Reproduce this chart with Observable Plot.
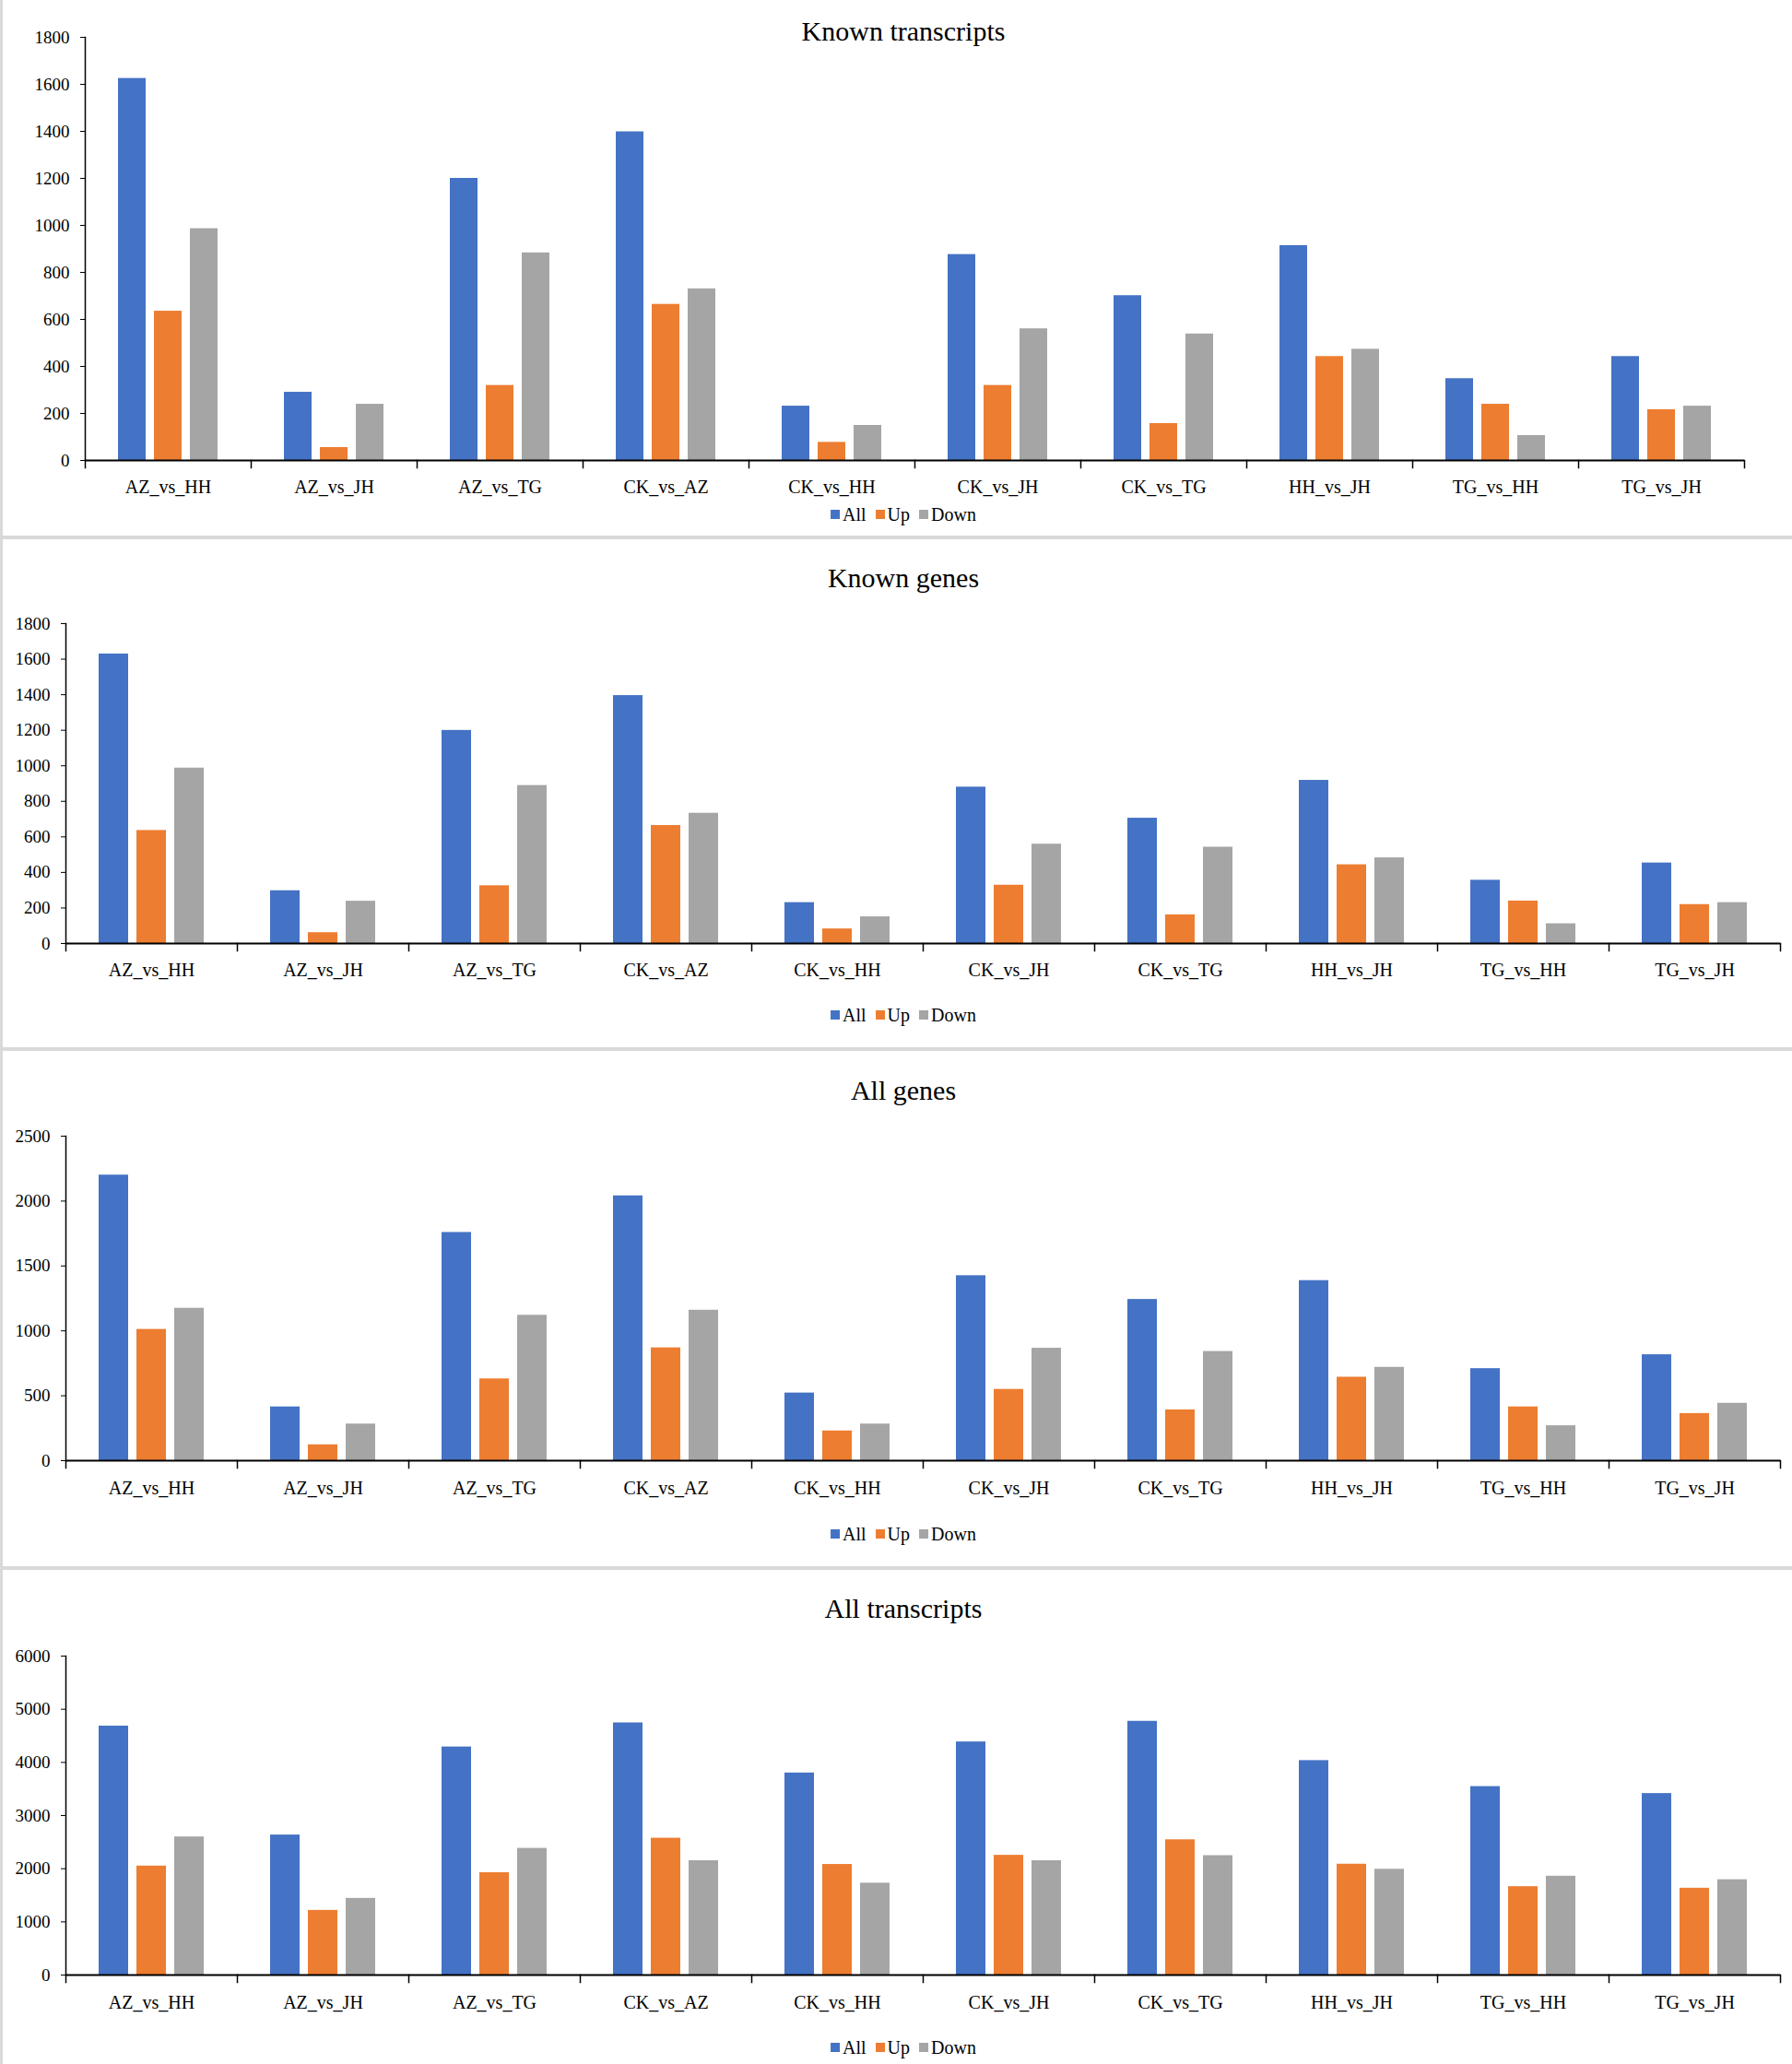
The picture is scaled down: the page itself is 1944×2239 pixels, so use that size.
<!DOCTYPE html>
<html>
<head>
<meta charset="utf-8">
<script src="https://cdn.jsdelivr.net/npm/d3@7"></script>
<script src="https://cdn.jsdelivr.net/npm/@observablehq/plot@0.6"></script>
<style>
  html, body { margin: 0; padding: 0; background: #fff; }
  #page { position: relative; width: 1944px; height: 2239px; overflow: hidden; background: #fff; font-family: "Liberation Serif", "DejaVu Serif", serif; color: #000; }
  .title { position: absolute; font-size: 30px; line-height: 30px; white-space: nowrap; transform: translateX(-50%); }
  .legend { position: absolute; font-size: 20px; line-height: 20px; white-space: nowrap; transform: translate(-50%, -50%); display: flex; align-items: center; gap: 10px; }
  .legend span.item { display: inline-flex; align-items: center; gap: 3px; }
  .legend i { display: inline-block; width: 10px; height: 10px; }
  .sep { position: absolute; background: #d9d9d9; }
  .chart { position: absolute; left: 0; }
  .chart svg text { font-family: "Liberation Serif", "DejaVu Serif", serif; }
</style>
</head>
<body>
<div id="page"></div>
<script>
// ---- data ----
const categories = ["AZ_vs_HH", "AZ_vs_JH", "AZ_vs_TG", "CK_vs_AZ", "CK_vs_HH", "CK_vs_JH", "CK_vs_TG", "HH_vs_JH", "TG_vs_HH", "TG_vs_JH"];
const seriesNames = ["All", "Up", "Down"];
const seriesColors = ["#4472C4", "#ED7D31", "#A5A5A5"];

const knownTranscriptsAll  = [1625, 290, 1200, 1398, 231, 876, 701, 914, 348, 442];
const knownTranscriptsUp   = [635, 55, 319, 664, 77, 319, 157, 442, 239, 216];
const knownTranscriptsDown = [986, 239, 883, 730, 149, 560, 538, 473, 106, 231];

const knownGenesAll  = [1629, 297, 1199, 1395, 230, 880, 705, 918, 356, 453];
const knownGenesUp   = [636, 61, 325, 664, 82, 328, 161, 443, 239, 219];
const knownGenesDown = [987, 238, 889, 733, 150, 559, 542, 482, 111, 230];

const allGenesAll  = [2200, 414, 1758, 2040, 521, 1425, 1242, 1387, 709, 816];
const allGenesUp   = [1011, 122, 630, 869, 229, 549, 391, 643, 414, 363];
const allGenesDown = [1174, 282, 1120, 1159, 282, 866, 841, 719, 269, 442];

const allTranscriptsAll  = [4683, 2634, 4290, 4743, 3801, 4385, 4773, 4034, 3545, 3414];
const allTranscriptsUp   = [2050, 1216, 1925, 2574, 2080, 2252, 2544, 2085, 1662, 1633];
const allTranscriptsDown = [2598, 1442, 2383, 2151, 1728, 2151, 2246, 1990, 1859, 1793];

const ticks1800 = [0, 200, 400, 600, 800, 1000, 1200, 1400, 1600, 1800];
const ticks2500 = [0, 500, 1000, 1500, 2000, 2500];
const ticks6000 = [0, 1000, 2000, 3000, 4000, 5000, 6000];

const panels = [
  {title: "Known transcripts", all: knownTranscriptsAll, up: knownTranscriptsUp, down: knownTranscriptsDown, ticks: ticks1800,
   titleBase: 44, yTop: 40, yZero: 499, left: 89, right: 1895, labelPad: 21, legendY: 558},
  {title: "Known genes", all: knownGenesAll, up: knownGenesUp, down: knownGenesDown, ticks: ticks1800,
   titleBase: 637, yTop: 676, yZero: 1023, left: 69, right: 1933, labelPad: 21, legendY: 1101},
  {title: "All genes", all: allGenesAll, up: allGenesUp, down: allGenesDown, ticks: ticks2500,
   titleBase: 1193, yTop: 1232, yZero: 1584, left: 69, right: 1933, labelPad: 22, legendY: 1664},
  {title: "All transcripts", all: allTranscriptsAll, up: allTranscriptsUp, down: allTranscriptsDown, ticks: ticks6000,
   titleBase: 1755, yTop: 1796, yZero: 2142, left: 69, right: 1933, labelPad: 22, legendY: 2221}
];

const page = document.getElementById("page");
const W = 1944;
const centerX = 980;

for (const p of panels) {
  const rows = [];
  categories.forEach((c, i) => {
    rows.push({cat: c, series: "All", value: p.all[i]});
    rows.push({cat: c, series: "Up", value: p.up[i]});
    rows.push({cat: c, series: "Down", value: p.down[i]});
  });
  const mTop = 12, mBottom = 46;
  const plotH = p.yZero - p.yTop;
  const H = mTop + plotH + mBottom;
  const yMax = p.ticks[p.ticks.length - 1];

  const chart = Plot.plot({
    width: W,
    height: H,
    marginTop: mTop,
    marginBottom: mBottom,
    marginLeft: p.left,
    marginRight: W - p.right,
    style: {fontFamily: "Liberation Serif", background: "transparent", color: "#000"},
    fx: {domain: categories, padding: 0, label: null},
    x: {domain: seriesNames, paddingInner: 0.23, paddingOuter: 0.88, axis: null},
    y: {domain: [0, yMax], label: null},
    color: {domain: seriesNames, range: seriesColors},
    marks: [
      Plot.barY(rows, {fx: "cat", x: "series", y: "value", fill: "series"}),
      Plot.ruleY([0], {stroke: "#000", strokeWidth: 2}),
      Plot.frame({anchor: "left", facetAnchor: "left", stroke: "#000", strokeWidth: 1.5}),
      Plot.frame({anchor: "left", insetTop: plotH, insetBottom: -8, stroke: "#000", strokeWidth: 1.5}),
      Plot.frame({anchor: "right", facetAnchor: "right", insetTop: plotH, insetBottom: -8, stroke: "#000", strokeWidth: 1.5}),
      Plot.axisY({ticks: p.ticks, tickSize: 5, tickPadding: 12, fontSize: 19, label: null, tickFormat: d => String(d)}),
      Plot.axisFx({anchor: "bottom", tickSize: 0, tickPadding: p.labelPad, fontSize: 20, label: null})
    ]
  });
  const holder = document.createElement("div");
  holder.className = "chart";
  holder.style.top = (p.yTop - mTop) + "px";
  holder.appendChild(chart);
  page.appendChild(holder);

  const t = document.createElement("div");
  t.className = "title";
  t.textContent = p.title;
  t.style.left = centerX + "px";
  t.style.top = (p.titleBase - 25) + "px";
  page.appendChild(t);

  const lg = document.createElement("div");
  lg.className = "legend";
  lg.style.left = centerX + "px";
  lg.style.top = p.legendY + "px";
  seriesNames.forEach((s, i) => {
    const it = document.createElement("span");
    it.className = "item";
    const sw = document.createElement("i");
    sw.style.background = seriesColors[i];
    it.appendChild(sw);
    it.appendChild(document.createTextNode(s));
    lg.appendChild(it);
  });
  page.appendChild(lg);
}

// panel separators and left border
[[581, 4], [1136, 4], [1699, 4]].forEach(([y, h]) => {
  const s = document.createElement("div");
  s.className = "sep";
  s.style.left = "0px"; s.style.width = W + "px";
  s.style.top = y + "px"; s.style.height = h + "px";
  page.appendChild(s);
});
const lb = document.createElement("div");
lb.className = "sep";
lb.style.left = "0px"; lb.style.width = "3px"; lb.style.top = "0px"; lb.style.height = "2239px";
page.appendChild(lb);
</script>
</body>
</html>
